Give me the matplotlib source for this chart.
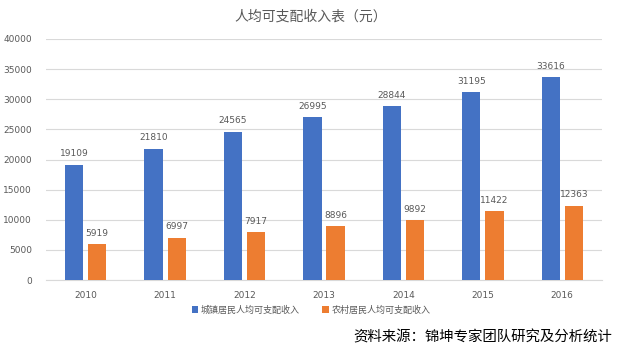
import matplotlib
matplotlib.use("Agg")
import matplotlib.pyplot as plt
import numpy as np

years = ["2010", "2011", "2012", "2013", "2014", "2015", "2016"]
urban = [19109, 21810, 24565, 26995, 28844, 31195, 33616]
rural = [5919, 6997, 7917, 8896, 9892, 11422, 12363]
yticks = [0, 5000, 10000, 15000, 20000, 25000, 30000, 35000, 40000]

plt.rcParams['font.family'] = ['Noto Sans CJK SC', 'DejaVu Sans']

fig = plt.figure(figsize=(6.22, 3.55), dpi=100)
ax = fig.add_axes([46/622, 1-280/355, 556/622, 241/355])

x = np.arange(len(years))
w = 0.23
off = 0.145
blue = '#4472C4'
orange = '#ED7D31'
tc = '#595959'

b1 = ax.bar(x - off, urban, w, color=blue, label='城镇居民人均可支配收入', zorder=3)
b2 = ax.bar(x + off, rural, w, color=orange, label='农村居民人均可支配收入', zorder=3)
lab_off = 11 * 40000 / 241
for rect, v in zip(b1, urban):
    ax.text(rect.get_x() + rect.get_width()/2, v + lab_off, str(v), ha='center', va='center',
            fontsize=6.5, color=tc, family=['DejaVu Sans'], zorder=4)
for rect, v in zip(b2, rural):
    ax.text(rect.get_x() + rect.get_width()/2, v + lab_off, str(v), ha='center', va='center',
            fontsize=6.5, color=tc, family=['DejaVu Sans'], zorder=4)

ax.set_xlim(-0.5, len(years) - 0.5)
ax.set_ylim(0, 40000)
ax.set_yticks(yticks)
ax.set_yticklabels([str(t) for t in yticks], fontsize=6.5, color=tc, family=['DejaVu Sans'])
ax.set_xticks(x)
ax.set_xticklabels(years, fontsize=6.5, color=tc, family=['DejaVu Sans'])
ax.tick_params(axis='both', length=0, pad=8)
ax.tick_params(axis='y', pad=10)
ax.grid(axis='y', color='#D9D9D9', linewidth=0.8, zorder=0)
for s in ['top', 'right', 'left']:
    ax.spines[s].set_visible(False)
ax.spines['bottom'].set_color('#D9D9D9')

fig.text(0.5, 1-17/355, '人均可支配收入表（元）', ha='center', va='center', fontsize=10, color=tc)

leg = fig.legend(handles=[b1, b2], loc='center', bbox_to_anchor=(0.5, 1-310/355), ncol=2,
                 frameon=False, fontsize=6.5, handlelength=0.7, handleheight=0.7,
                 columnspacing=2.5, handletextpad=0.3)
for t in leg.get_texts():
    t.set_color(tc)

fig.text(612/622, 1-337/355, '资料来源：锦坤专家团队研究及分析统计', ha='right', va='center',
         fontsize=10.4, color='#000000')

fig.savefig('out.png', dpi=100)
